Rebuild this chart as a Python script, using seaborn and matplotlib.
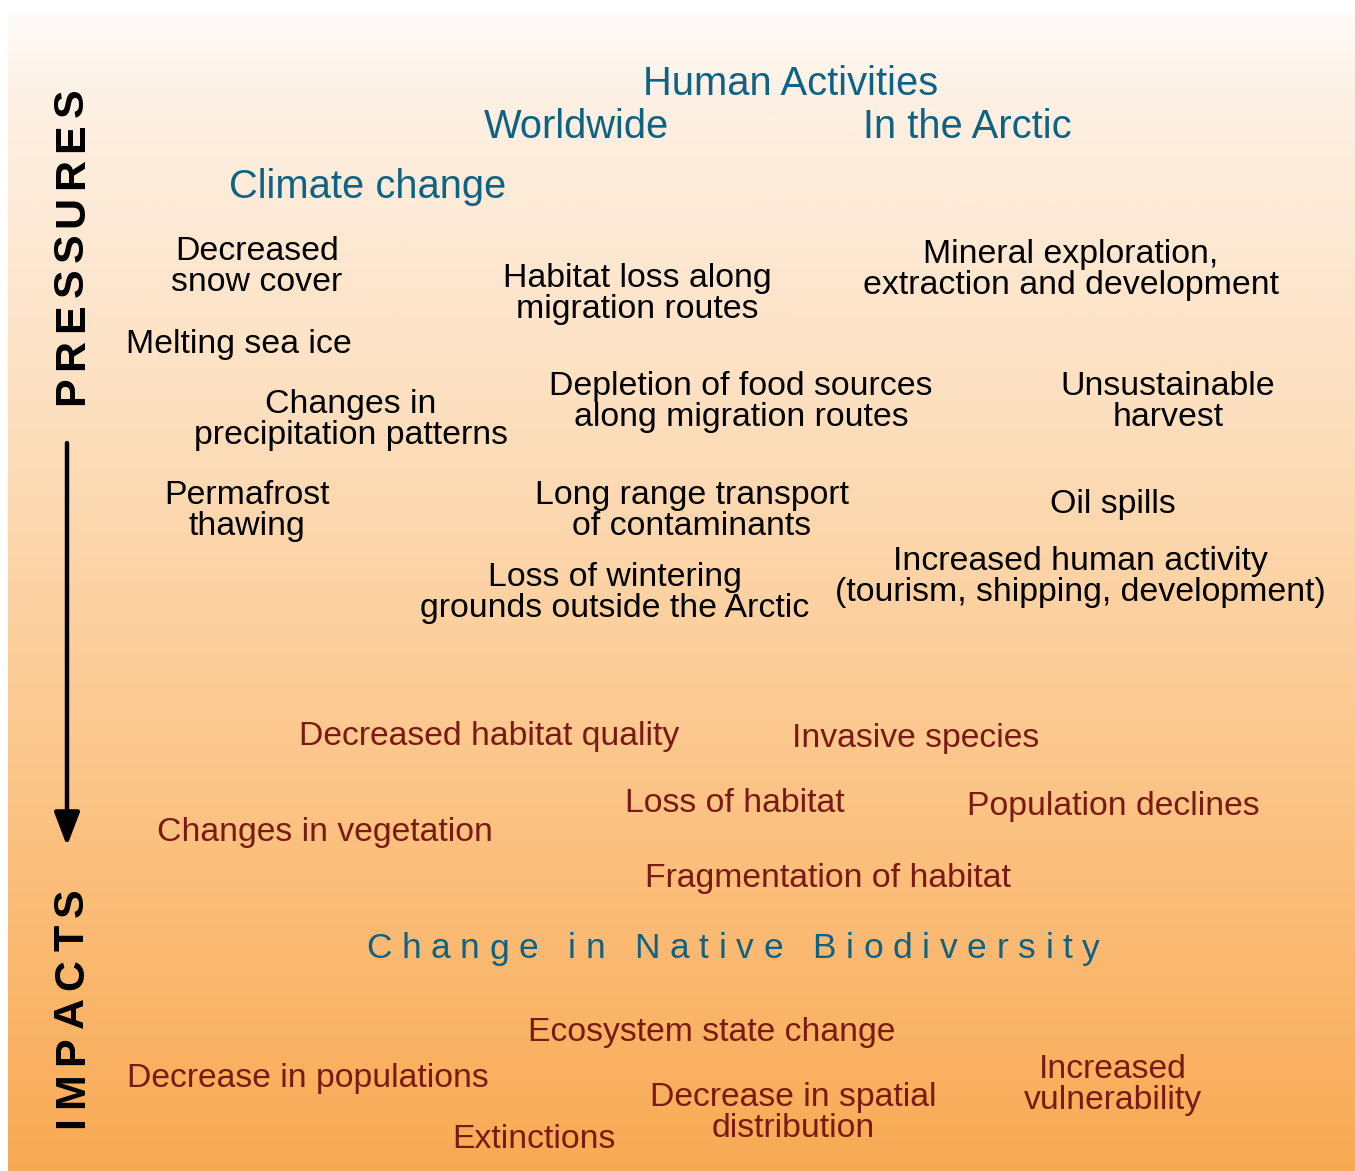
import numpy as np
import matplotlib
matplotlib.use("Agg")
from matplotlib import pyplot as plt
from matplotlib.colors import LinearSegmentedColormap
import seaborn as sns

sns.set_theme(style="white")
plt.rcParams['font.family'] = ['Liberation Sans', 'DejaVu Sans']

# Text content of the diagram
title_labels = ["Human Activities", "Worldwide", "In the Arctic", "Climate change"]
pressure_labels = [
    "Decreased\nsnow cover",
    "Habitat loss along\nmigration routes",
    "Mineral exploration,\nextraction and development",
    "Melting sea ice",
    "Changes in\nprecipitation patterns",
    "Depletion of food sources\nalong migration routes",
    "Unsustainable\nharvest",
    "Permafrost\nthawing",
    "Long range transport\nof contaminants",
    "Oil spills",
    "Loss of wintering\ngrounds outside the Arctic",
    "Increased human activity\n(tourism, shipping, development)",
]
impact_labels = [
    "Decreased habitat quality",
    "Invasive species",
    "Loss of habitat",
    "Population declines",
    "Changes in vegetation",
    "Fragmentation of habitat",
    "Ecosystem state change",
    "Decrease in populations",
    "Increased\nvulnerability",
    "Decrease in spatial\ndistribution",
    "Extinctions",
]
center_label = "Change in Native Biodiversity"
axis_labels = ["PRESSURES", "IMPACTS"]

# Layout (pixel positions of label centres)
title_pos = [(791, 84), (576, 127), (967, 127), (368, 187)]
pressure_pos = [(257, 267), (637, 294), (1071, 270), (239, 345), (351, 420),
                (741, 402), (1168, 402), (247, 511), (692, 511), (1113, 505),
                (615, 593), (1080, 577)]
impact_pos = [(489, 736), (916, 739), (735, 803), (1113, 806), (325, 833),
              (828, 878), (712, 1032), (308, 1079), (1113, 1085), (793, 1113),
              (534, 1140)]

BLUE = "#0e6384"
RED = "#7a1a14"
W, H = 1355, 1171

fig = plt.figure(figsize=(W / 100, H / 100), dpi=100)
ax = fig.add_axes([0, 0, 1, 1])
ax.set_xlim(0, W)
ax.set_ylim(H, 0)
ax.axis("off")

# Background gradient panel
stops = [(0.0, "#fffbf8"), (0.076, "#fdf0e3"), (0.335, "#fde0c0"),
         (0.624, "#fcc88e"), (0.81, "#fbb971"), (1.0, "#f8aa53")]
cmap = LinearSegmentedColormap.from_list("bg", stops)
grad = np.linspace(0, 1, 512).reshape(-1, 1)
ax.imshow(grad, cmap=cmap, aspect="auto", extent=(8, W, H, 12), zorder=0)

for s, (x, y) in zip(title_labels, title_pos):
    ax.text(x, y, s, color=BLUE, fontsize=28.7, ha="center", va="center")
for s, (x, y) in zip(pressure_labels, pressure_pos):
    ax.text(x, y, s, color="black", fontsize=24.4, ha="center", va="center",
            linespacing=1.03)
for s, (x, y) in zip(impact_labels, impact_pos):
    ax.text(x, y, s, color=RED, fontsize=24.3, ha="center", va="center",
            linespacing=1.03)


def spaced_text(s, start, end, pos, vertical=False, **kw):
    # letter-spaced text spread evenly between start and end
    r = fig.canvas.get_renderer()
    sp = kw["fontsize"] * 0.28 * 100 / 72
    widths = []
    for ch in s:
        if ch == " ":
            widths.append(sp)
            continue
        t = ax.text(0, 0, ch, **kw)
        widths.append(t.get_window_extent(r).width)
        t.remove()
    gap = (abs(end - start) - sum(widths)) / (len(s) - 1)
    cur = start
    for ch, w in zip(s, widths):
        if ch != " ":
            if vertical:
                ax.text(pos, cur, ch, rotation=90, ha="center", va="bottom", **kw)
            else:
                ax.text(cur, pos, ch, ha="left", va="center", **kw)
        if vertical:
            cur -= w + gap
        else:
            cur += w + gap


spaced_text(center_label, 366, 1100, 949, color=BLUE, fontsize=25.5)
spaced_text(axis_labels[0], 405, 88, 72, vertical=True, color="black",
            fontsize=31, fontweight="bold")
spaced_text(axis_labels[1], 1128, 888, 72, vertical=True, color="black",
            fontsize=31, fontweight="bold")

# Pressure -> impact arrow
ax.annotate("", xy=(67, 846), xytext=(67, 443),
            arrowprops=dict(arrowstyle="-|>,head_length=1.7,head_width=0.65",
                            lw=3.2, color="black", shrinkA=0, shrinkB=0))

fig.savefig("out.png", dpi=100)
